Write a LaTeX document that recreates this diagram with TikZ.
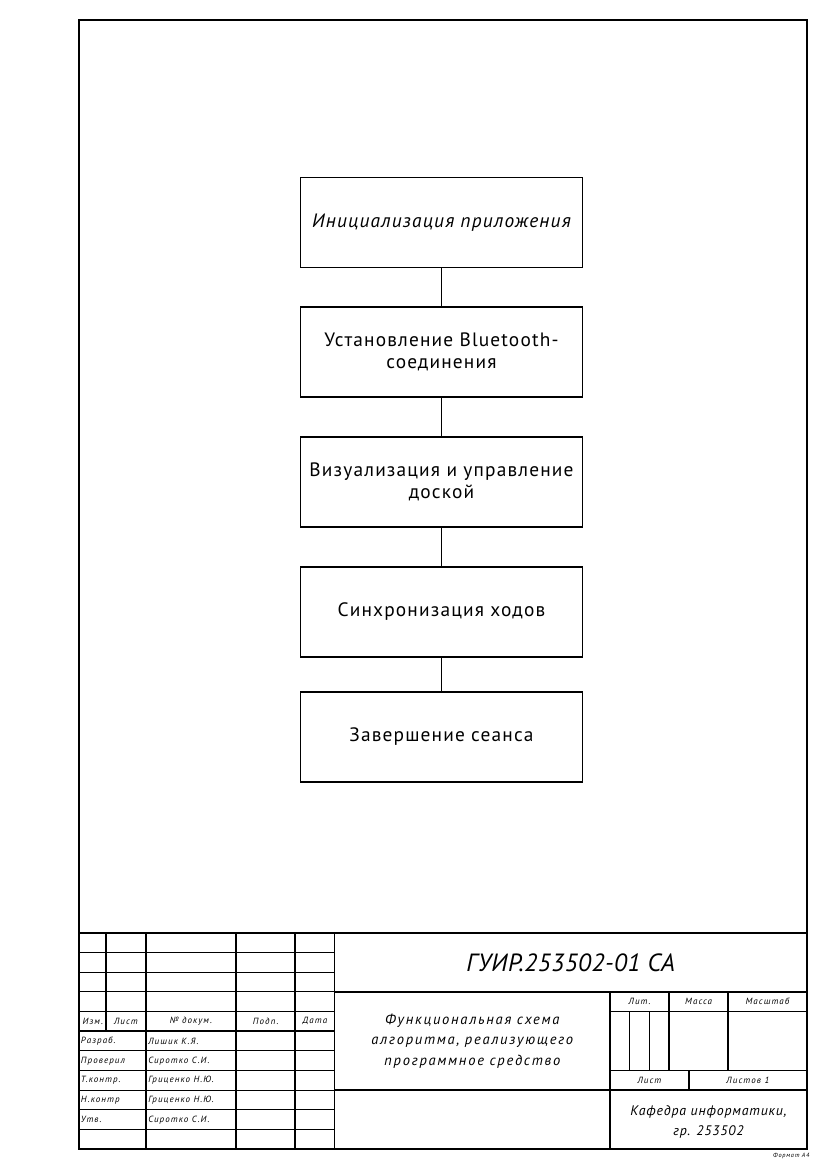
\documentclass[tikz,border=0pt]{standalone}
\usepackage{fontspec}
\setmainfont{PT Sans}
\newfontfamily\gost{PT Sans}[LetterSpace=6]
\newfontfamily\gostw{PT Sans}[LetterSpace=12]
\newfontfamily\gostn{PT Sans}[LetterSpace=2]
\begin{document}
\begin{tikzpicture}[x=1mm,y=1mm,
  frameline/.style={line width=0.5mm},
  thk/.style={line width=0.45mm},
  thn/.style={line width=0.25mm},
  box/.style={draw, line width=0.33mm, minimum width=71.6mm, minimum height=22.85mm,
    align=center, inner sep=1mm, font=\gost\fontsize{14}{16}\selectfont},
  conn/.style={line width=0.33mm},
  sm/.style={inner sep=0pt, font=\gostw\itshape\fontsize{6.5}{7}\selectfont},
  mid/.style={inner sep=0pt, align=center, font=\gostw\itshape\fontsize{10.5}{15}\selectfont},
  dep/.style={inner sep=0pt, align=center, font=\gost\itshape\fontsize{10}{14.5}\selectfont},
  big/.style={inner sep=0pt, font=\gostn\itshape\fontsize{18}{20}\selectfont},
  tiny/.style={inner sep=0pt, font=\gostw\itshape\fontsize{4.5}{5}\selectfont}]
\useasboundingbox (0,0) rectangle (210,297);
\fill[white] (0,0) rectangle (210,297);
% frame
\draw[frameline] (20,5) rectangle (205,292);
% flowchart
\node[box] (b1) at (112.16,240.55) {\itshape Инициализация приложения};
\node[box] (b2) at (112.16,207.54) {Установление Bluetooth-\\соединения};
\node[box] (b3) at (112.16,174.53) {Визуализация и управление\\доской};
\node[box] (b4) at (112.16,141.52) {Синхронизация ходов};
\node[box] (b5) at (112.16,109.78) {Завершение сеанса};
\draw[conn] (b1) -- (b2);
\draw[conn] (b2) -- (b3);
\draw[conn] (b3) -- (b4);
\draw[conn] (b4) -- (b5);
% stamp: thick lines
\draw[thk] (20,60) -- (205,60);
\draw[thk] (27,35) -- (27,60);
\foreach \x in {37,60,75,85} \draw[thk] (\x,5) -- (\x,60);
\draw[thk] (20,35) -- (85,35);
\draw[thk] (20,40) -- (85,40);
\draw[thk] (85,45) -- (205,45);
\draw[thk] (85,20) -- (205,20);
\draw[thk] (155,5) -- (155,45);
\draw[thk] (155,40) -- (205,40);
\draw[thk] (155,25) -- (205,25);
\draw[thk] (170,25) -- (170,45);
\draw[thk] (185,25) -- (185,45);
\draw[thk] (175,20) -- (175,25);
% stamp: thin lines
\draw[thn] (160,25) -- (160,40);
\draw[thn] (165,25) -- (165,40);
\foreach \y in {10,15,20,25,30,45,50,55} \draw[thn] (20,\y) -- (85,\y);
% header row
\node[sm] (hIzm) at (23.6,37.5) {Изм.};
\node[sm] (hList) at (32,37.5) {Лист};
\node[sm] (hDoc) at (48.5,37.5) {№ докум.};
\node[sm] (hPodp) at (67.5,37.5) {Подп.};
\node[sm] (hData) at (80,37.5) {Дата};
% roles
\node[sm, anchor=west] (rRaz) at (20.5,32.5) {Разраб.};
\node[sm, anchor=west] (rProv) at (20.5,27.5) {Проверил};
\node[sm, anchor=west] (rTk) at (20.5,22.5) {Т.контр.};
\node[sm, anchor=west] (rNk) at (20.5,17.5) {Н.контр};
\node[sm, anchor=west] (rUtv) at (20.5,12.5) {Утв.};
\node[sm, anchor=west] (nRaz) at (37.6,32.5) {Лишик К.Я.};
\node[sm, anchor=west] (nProv) at (37.6,27.5) {Сиротко С.И.};
\node[sm, anchor=west] (nTk) at (37.6,22.5) {Гриценко Н.Ю.};
\node[sm, anchor=west] (nNk) at (37.6,17.5) {Гриценко Н.Ю.};
\node[sm, anchor=west] (nUtv) at (37.6,12.5) {Сиротко С.И.};
% right part
\node[big] (code) at (145,52.5) {ГУИР.253502-01 СА};
\node[mid] (title) at (120,32.5) {Функциональная схема\\алгоритма, реализующего\\программное средство};
\node[sm] (lLit) at (162.5,42.5) {Лит.};
\node[sm] (lMass) at (177.5,42.5) {Масса};
\node[sm] (lScale) at (195,42.5) {Масштаб};
\node[sm] (lSheet) at (165,22.5) {Лист};
\node[sm] (lSheets) at (190,22.5) {Листов 1};
\node[dep] (dept) at (180,12) {Кафедра информатики,\\гр. 253502};
\node[tiny, anchor=east] (fmt) at (205.7,3.4) {Формат А4};
\end{tikzpicture}
\end{document}
